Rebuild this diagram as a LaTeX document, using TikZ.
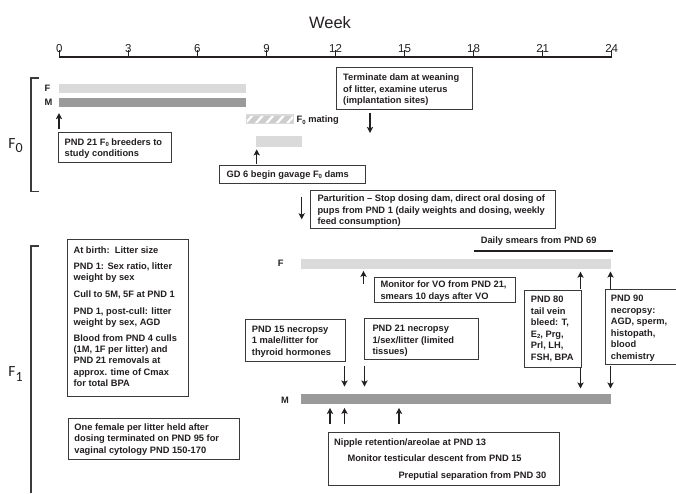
\documentclass[tikz,border=0pt]{standalone}
\usepackage{fontspec}
\setmainfont{Liberation Sans}
\newfontfamily\calfont{Carlito}
\usetikzlibrary{arrows.meta}
\definecolor{txt}{HTML}{231F20}
\definecolor{lbar}{HTML}{DADADA}
\definecolor{dbar}{HTML}{9A9A9A}
\definecolor{matc}{HTML}{CDCDCD}
\definecolor{edge}{HTML}{3A3A3A}
\newcommand{\sbs}[1]{\raisebox{-1.5pt}{\fontsize{6}{6}\selectfont #1}}
\begin{document}
\begin{tikzpicture}[x=1pt,y=-1pt,
  every node/.style={text=txt},
  boxn/.style={draw=edge, line width=0.9pt, fill=white, anchor=north west, inner sep=0pt},
  btxt/.style={anchor=north west, inner sep=0pt, align=left, font=\bfseries\fontsize{9.3}{11.5}\selectfont},
  lbl/.style={inner sep=0pt, anchor=base west, font=\bfseries\fontsize{9.3}{11.5}\selectfont},
  ticklbl/.style={inner sep=0pt, anchor=base, font=\fontsize{11.5}{12}\selectfont},
  side/.style={inner sep=0pt, anchor=base, font=\calfont\fontsize{15.5}{16}\selectfont},
  bar/.style={draw=none, anchor=north west, inner sep=0pt},
  arr/.style={draw=txt, line width=1.35pt, -{Stealth[length=6pt,width=6.2pt,inset=1.3pt]}},
  brk/.style={draw=edge, line width=1.1pt},
  axisl/.style={draw=txt, line width=1.4pt}
]
\useasboundingbox (0,0) rectangle (676,493);

% ---------- axis ----------
\node[inner sep=0pt, anchor=base, font=\fontsize{16.5}{18}\selectfont] (week) at (330,28.5) {Week};
\foreach \w in {0,3,...,24} {
  \node[ticklbl] (wk\w) at ({59.3+23.017*\w},52.2) {\w};
  \coordinate (tk\w) at ({59.3+23.017*\w},57);
}
\draw[axisl] ([yshift=7.5pt]tk0) -- (tk0) -- (tk24) -- ([yshift=7.5pt]tk24);
\foreach \w in {3,6,...,21} { \draw[axisl] (tk\w) -- ([yshift=7.5pt]tk\w); }

% ---------- brackets and side labels ----------
\coordinate (bk0a) at (39,78);
\coordinate (bk0b) at (39,191.7);
\draw[brk] (bk0a) -- (31,78) -- (31,191.7) -- (bk0b);
\coordinate (bk1a) at (39,246);
\coordinate (bk1b) at (31,493);
\draw[brk] (bk1a) -- (31,246) -- (bk1b);
\node[side] (lf0) at (15.5,148.3) {F\raisebox{-4.3pt}{\fontsize{14}{14}\selectfont 0}};
\node[side] (lf1) at (15.5,376.7) {F\raisebox{-4.3pt}{\fontsize{14}{14}\selectfont 1}};

% ---------- F0 bars ----------
\node[lbl] (f0Flbl) at (44.3,91.3) {F};
\node[lbl] (f0Mlbl) at (44.3,105.3) {M};
\node[bar, fill=lbar, minimum width=187pt, minimum height=9.4pt] (f0F) at (58.7,83.3) {};
\node[bar, fill=dbar, minimum width=187pt, minimum height=9.4pt] (f0M) at (58.7,97.3) {};
\node[bar, fill=matc, minimum width=46.6pt, minimum height=8.3pt] (mat) at (246.7,115) {};
\begin{scope}
  \clip (mat.south west) rectangle (mat.north east);
  \foreach \i in {0,...,5} {
    \draw[white, line width=2.2pt] ({246.7+\i*10.5-2},124) -- ({246.7+\i*10.5+7},114);
  }
\end{scope}
\draw[lbar, line width=1.4pt] (mat.south west) rectangle (mat.north east);
\node[lbl] (matlbl) at (296.5,122.8) {F\sbs{0} mating};
\node[bar, fill=lbar, minimum width=46.4pt, minimum height=10.7pt] (gav) at (255.3,136) {};

% ---------- F0 boxes ----------
\node[boxn, minimum width=112.7pt, minimum height=30.6pt] (b21) at (58,131.7) {};
\node[btxt] (t21) at ([shift={(6.5,6.5)}]b21.north west) {PND 21 F\sbs{0} breeders to\\study conditions};

\node[boxn, minimum width=135.7pt, minimum height=41.7pt] (bterm) at (336,67.3) {};
\node[btxt] (tterm) at ([shift={(7,6.5)}]bterm.north west) {Terminate dam at weaning\\of litter, examine uterus\\(implantation sites)};

\node[boxn, minimum width=146.5pt, minimum height=17.7pt] (bgd) at (218.5,165) {};
\node[btxt] (tgd) at ([shift={(8,5.5)}]bgd.north west) {GD 6 begin gavage F\sbs{0} dams};

\node[boxn, minimum width=245pt, minimum height=38.3pt] (bpar) at (310,190) {};
\node[btxt] (tpar) at ([shift={(7.3,4.8)}]bpar.north west) {Parturition -- Stop dosing dam, direct oral dosing of\\pups from PND 1 (daily weights and dosing, weekly\\feed consumption)};

% ---------- F1 left boxes ----------
\node[boxn, minimum width=121pt, minimum height=156.7pt] (bbirth) at (66.7,239.3) {};
\node[btxt, font=\bfseries\fontsize{9.3}{11.1}\selectfont] (tbirth) at ([shift={(6.7,7.2)}]bbirth.north west) {At birth:\ \ Litter size\\[5.3pt]PND 1: Sex ratio, litter\\weight by sex\\[5.6pt]Cull to 5M, 5F at PND 1\\[6pt]PND 1, post-cull: litter\\weight by sex, AGD\\[4.8pt]Blood from PND 4 culls\\(1M, 1F per litter) and\\PND 21 removals at\\approx. time of Cmax\\for total BPA};

\node[boxn, minimum width=171.6pt, minimum height=41.6pt] (bfem) at (67.7,417.7) {};
\node[btxt] (tfem) at ([shift={(6.5,5.5)}]bfem.north west) {One female per litter held after\\dosing terminated on PND 95 for\\vaginal cytology PND 150-170};

% ---------- F1 bars ----------
\node[lbl] (f1Flbl) at (277.7,266.3) {F};
\node[lbl] (f1Mlbl) at (281,403.3) {M};
\node[bar, fill=lbar, minimum width=309.7pt, minimum height=10pt] (f1F) at (301,258.3) {};
\node[bar, fill=dbar, minimum width=310pt, minimum height=10.5pt] (f1M) at (301,393.5) {};

\coordinate (ds0) at (474,251);
\coordinate (ds1) at (612.7,251);
\draw[line width=1.3pt, txt] (ds0) -- (ds1);
\node[lbl, anchor=base] (dslbl) at (538.7,243.3) {Daily smears from PND 69};

% ---------- F1 boxes ----------
\node[boxn, minimum width=140.7pt, minimum height=25.6pt] (bvo) at (374.3,276.7) {};
\node[btxt] (tvo) at ([shift={(6,4)}]bvo.north west) {Monitor for VO from PND 21,\\smears 10 days after VO};

\node[boxn, minimum width=100pt, minimum height=41.4pt] (b15) at (245,319.3) {};
\node[btxt] (t15) at ([shift={(6.7,6.5)}]b15.north west) {PND 15 necropsy\\1 male/litter for\\thyroid hormones};

\node[boxn, minimum width=113.4pt, minimum height=41pt] (b21n) at (364.3,318.3) {};
\node[btxt] (t21n) at ([shift={(8,6.5)}]b21n.north west) {PND 21 necropsy\\1/sex/litter (limited\\tissues)};

\node[boxn, minimum width=57pt, minimum height=76.7pt] (b80) at (524,290) {};
\node[btxt] (t80) at ([shift={(6.7,5.8)}]b80.north west) {PND 80\\tail vein\\bleed: T,\\E\sbs{2}, Prg,\\Prl, LH,\\FSH, BPA};

\node[boxn, minimum width=70.5pt, minimum height=75pt] (b90) at (605,289.3) {};
\node[btxt] (t90) at ([shift={(5.7,5.5)}]b90.north west) {PND 90\\necropsy:\\AGD, sperm,\\histopath,\\blood\\chemistry};

\node[boxn, minimum width=231.6pt, minimum height=52.7pt] (bbot) at (327.7,432.3) {};
\node[lbl] (tnip) at (334,445) {Nipple retention/areolae at PND 13};
\node[lbl] (ttes) at (347.3,461.6) {Monitor testicular descent from PND 15};
\node[lbl] (tpre) at (398.3,478.3) {Preputial separation from PND 30};

% ---------- arrows ----------
\coordinate (c0) at (59,0);
\coordinate (c1) at (256.7,0);
\coordinate (c2) at (370,0);
\coordinate (c4) at (363.5,0);
\coordinate (c5) at (580.5,0);
\coordinate (c6) at (610.5,0);
\coordinate (c7) at (344.5,0);
\coordinate (c8) at (364.5,0);
\coordinate (c9) at (330,0);
\coordinate (c10) at (344.5,0);
\coordinate (c11) at (399,0);

\draw[arr, shorten <=3pt, shorten >=6pt] (b21.north -| c0) -- (f0M.south -| c0);
\draw[arr, shorten <=1pt, shorten >=2.3pt] (bgd.north -| c1) -- (gav.south -| c1);
\coordinate (termend) at (370,133);
\draw[arr, shorten <=2.7pt] (bterm.south -| c2) -- (termend);
\coordinate (pars) at (301.7,196.7);
\coordinate (pare) at (301.7,219.3);
\draw[arr] (pars) -- (pare);
\coordinate (vos) at (363.5,283.5);
\draw[arr, shorten >=2.2pt] (vos) -- (f1F.south -| c4);
\draw[arr, shorten <=1pt, shorten >=3pt] (b80.north -| c5) -- (f1F.south -| c5);
\draw[arr, shorten <=0.5pt, shorten >=5pt] (b80.south -| c5) -- (f1M.north -| c5);
\draw[arr, shorten <=0.5pt, shorten >=2.8pt] (b90.north -| c6) -- (f1F.south -| c6);
\draw[arr, shorten <=0.5pt, shorten >=5pt] (b90.south -| c6) -- (f1M.north -| c6);
\draw[arr, shorten <=4pt, shorten >=7pt] (b15.south -| c7) -- (f1M.north -| c7);
\draw[arr, shorten <=5.5pt, shorten >=7pt] (b21n.south -| c8) -- (f1M.north -| c8);
\foreach \c in {c9,c10,c11} {
  \draw[arr, shorten <=8.5pt, shorten >=3.5pt] (bbot.north -| \c) -- (f1M.south -| \c);
}
\end{tikzpicture}
\end{document}
